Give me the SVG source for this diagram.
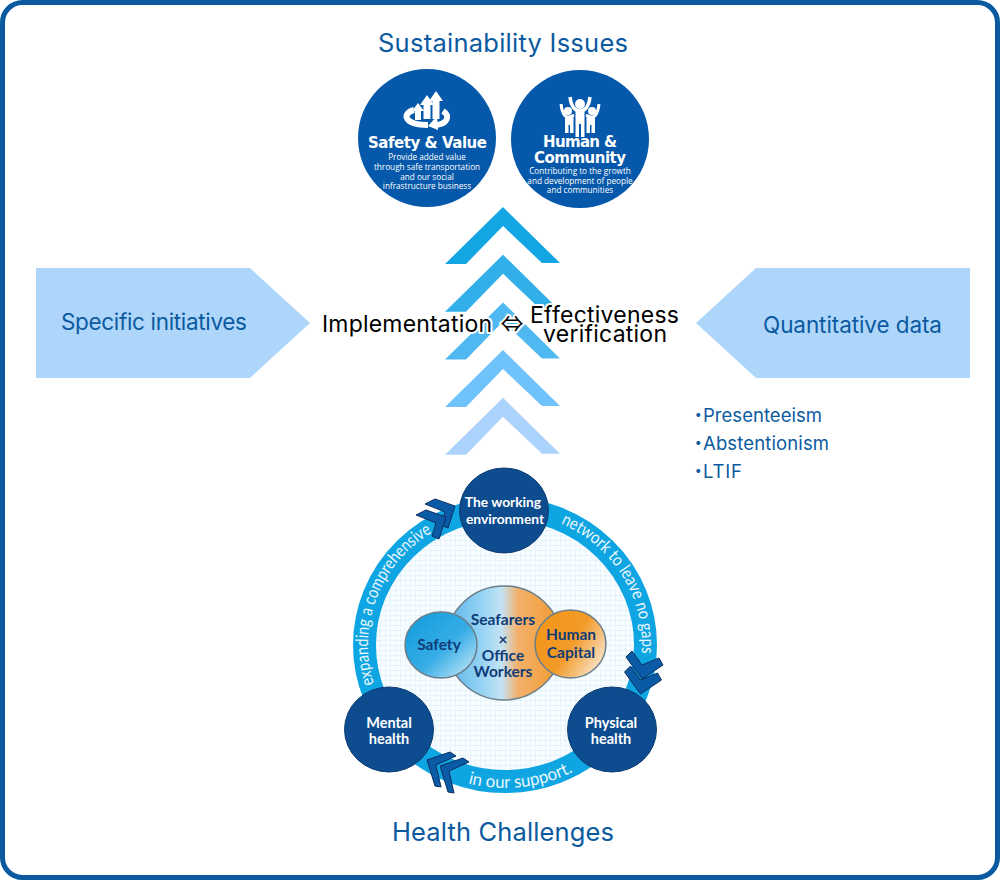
<svg xmlns="http://www.w3.org/2000/svg" width="1000" height="880" viewBox="0 0 1000 880">
<style>
.sans{font-family:Inter,"Noto Sans","Liberation Sans",sans-serif}
.head{font-size:25.500px;fill:#0b5a9f}
.side{font-size:22.500px;fill:#0b5a9f}
.list{font-size:18.500px;fill:#0b5a9f}
.blk{font-size:23px;fill:#000;stroke:#fff;stroke-width:4px;paint-order:stroke;stroke-linejoin:round}
.t1{font-family:"DejaVu Sans","Liberation Sans",sans-serif;font-weight:700;fill:#fff;font-size:15px}
.t2{font-family:"Open Sans","Liberation Sans",sans-serif;fill:#fff;text-anchor:middle;font-size:8.200px}
.n{font-family:Lato,"Liberation Sans",sans-serif;font-weight:700;fill:#fff;text-anchor:middle;font-size:14.500px}
.n2{font-size:13.800px}
.c{font-family:Lato,"Liberation Sans",sans-serif;font-weight:700;fill:#0f3c78;text-anchor:middle;font-size:15.500px}
.r{font-family:Lato,"Liberation Sans",sans-serif;fill:#e8f7fd;font-size:17.500px}
.chev{fill:#0b5aa6;stroke:#0d2f60;stroke-width:1}
.hn{fill:#0c4c8f;stroke:#0a3a70;stroke-width:1}
.ic{fill:#fff}
.il{fill:none;stroke:#fff;stroke-width:6}
</style>
<defs>
<pattern id="grid" width="5" height="5" patternUnits="userSpaceOnUse"><rect width="5" height="5" fill="#fafdff"/><path d="M0 0H5M0 0V5" stroke="#d4eefa" stroke-width="1" fill="none"/></pattern>
<linearGradient id="mid" x1="0" x2="1" y1="0" y2="0"><stop offset="0" stop-color="#58b4e8"/><stop offset=".28" stop-color="#8fd0f3"/><stop offset=".48" stop-color="#c4e3f5"/><stop offset=".62" stop-color="#f3b06a"/><stop offset="1" stop-color="#f29a2e"/></linearGradient>
<linearGradient id="saf" x1="0" y1="0" x2="1" y2="1"><stop offset="0" stop-color="#0d9bdc"/><stop offset=".55" stop-color="#37ade6"/><stop offset="1" stop-color="#d4eef9"/></linearGradient>
<linearGradient id="hum" x1="0" y1="0" x2="1" y2=".6"><stop offset="0" stop-color="#f39415"/><stop offset=".6" stop-color="#f39a28"/><stop offset="1" stop-color="#f8dcb8"/></linearGradient>
<path id="chv" d="M503 207L560 263H542L503 226L466 264H445Z"/>
<path id="arcL" d="M374 684A137 133 0 0 1 458 520"/>
<path id="arcR" d="M560.700 523.500A137 133 0 0 1 637.300 679.400"/>
<path id="arcB" d="M468 783.400A147 143 0 0 0 605 749.800"/>
<path id="c1" d="M435 499L455 506L448 528L441 525L445 512L425 504Z"/>
<path id="c2" d="M632 651L642 665L659 658L663 665L642 679L626 657Z"/>
<path id="c3" d="M450 752L427 760L435 786L441 787L436 765L456 756Z"/>
</defs>
<rect x="2.500" y="2.500" width="995" height="875" rx="20" fill="#fff" stroke="#0b5a9f" stroke-width="5"/>

<g id="title-top"><text class="sans head" x="378" y="52" textLength="250">Sustainability Issues</text></g>

<g id="connectors">
<use href="#chv" fill="#14a6e3"/>
<use href="#chv" y="47.700" fill="#32afe9"/>
<use href="#chv" y="95.400" fill="#50b8f0"/>
<use href="#chv" y="143.100" fill="#70c2fa"/>
<use href="#chv" y="190.800" fill="#abd3fb"/>
</g>

<g id="safety-value">
<circle cx="427" cy="138" r="69" fill="#0558aa"/>
<path class="ic" d="M436 91l7 10h-3.500v18h-7v-18h-3.500zM427 95l7 10h-3.500v14h-7v-14h-3.500zM418 103l6 8h-3v9h-6v-9h-3z"/>
<path class="il" d="M414 110C402 113 403 125 428 125M443 111C451 116 447 124 436 125"/>
<path class="ic" d="M437 116L438 130L428 126Z"/>
<text class="t1" x="368" y="148" textLength="119">Safety &amp; Value</text>
<text class="t2" x="427" y="160">Provide added value</text>
<text class="t2" x="427" y="170">through safe transportation</text>
<text class="t2" x="427" y="179.500">and our social</text>
<text class="t2" x="427" y="188.500">infrastructure business</text>
</g>

<g id="human-community">
<circle cx="580" cy="139" r="69" fill="#0558aa"/>
<circle class="ic" cx="580" cy="104" r="5"/><circle class="ic" cx="568" cy="111" r="4"/><circle class="ic" cx="592" cy="111" r="4"/>
<path class="il" d="M570 97C571 106 575 111 580 111C585 111 589 106 590 97" style="stroke-width:3.500px"/>
<path class="il" d="M561 104C562 112 564 117 568 117C570 117 572 116 574 115M599 104C598 112 596 117 592 117C590 117 588 116 586 115" style="stroke-width:3px"/>
<path class="ic" d="M575.500 110H584.500V137H581V124H579V137H575.500Z"/>
<path class="ic" d="M565 116H573.500V133H570V125H568.500V133H565ZM586.500 116H595V133H591.500V125H590V133H586.500Z"/>
<text class="t1" x="543" y="147" textLength="74">Human &amp;</text>
<text class="t1" x="534" y="163" textLength="92">Community</text>
<text class="t2" x="580" y="174">Contributing to the growth</text>
<text class="t2" x="580" y="183.500">and development of people</text>
<text class="t2" x="580" y="192.500">and communities</text>
</g>

<g id="specific-initiatives">
<path d="M36 268H250L310 323L250 378H36Z" fill="#aed6fb"/>
<text class="sans side" x="61" y="330" textLength="186">Specific initiatives</text>
</g>
<g id="quantitative-data">
<path d="M970 268H756L696 323L756 378H970Z" fill="#aed6fb"/>
<text class="sans side" x="763" y="333" textLength="179">Quantitative data</text>
</g>

<g id="verification-labels">
<text class="sans blk" x="322" y="332" textLength="170">Implementation</text>
<text class="sans blk" x="512" y="332" text-anchor="middle" style="font-family:'Noto Sans CJK JP',sans-serif">⇔</text>
<text class="sans blk" x="530" y="323" textLength="149">Effectiveness</text>
<text class="sans blk" x="543" y="342" textLength="124">verification</text>
</g>

<g id="data-list">
<text class="sans list" x="689" y="422" style="font-family:'Noto Sans CJK JP',Inter,sans-serif">・<tspan x="703" class="sans" textLength="119">Presenteeism</tspan></text>
<text class="sans list" x="689" y="450" style="font-family:'Noto Sans CJK JP',Inter,sans-serif">・<tspan x="703" class="sans" textLength="126">Abstentionism</tspan></text>
<text class="sans list" x="689" y="478" style="font-family:'Noto Sans CJK JP',Inter,sans-serif">・<tspan x="703" class="sans" textLength="39">LTIF</tspan></text>
</g>

<g id="cycle">
<ellipse cx="505.500" cy="645" rx="132" ry="128" fill="url(#grid)"/>
<ellipse cx="505" cy="645" rx="140.500" ry="136.500" fill="none" stroke="#0ea5e2" stroke-width="23"/>
<text class="r"><textPath href="#arcL" textLength="175" lengthAdjust="spacingAndGlyphs">expanding a comprehensive</textPath></text>
<text class="r"><textPath href="#arcR" textLength="163" lengthAdjust="spacingAndGlyphs">network to leave no gaps</textPath></text>
<text class="r"><textPath href="#arcB" textLength="108" lengthAdjust="spacingAndGlyphs">in our support.</textPath></text>
<use href="#c1" class="chev"/>
<use href="#c1" class="chev" x="-9" y="11"/>
<use href="#c2" class="chev"/>
<use href="#c2" class="chev" x="-1.500" y="15"/>
<use href="#c3" class="chev"/>
<use href="#c3" class="chev" x="13" y="6"/>
</g>

<g id="working-environment">
<ellipse class="hn" cx="504" cy="510.500" rx="44.500" ry="42.500"/>
<text class="n n2" x="503" y="507">The working</text>
<text class="n n2" x="505" y="524">environment</text>
</g>
<g id="physical-health">
<ellipse class="hn" cx="612" cy="729.500" rx="44.500" ry="42.500"/>
<text class="n" x="611" y="728">Physical</text>
<text class="n" x="611" y="744">health</text>
</g>
<g id="mental-health">
<ellipse class="hn" cx="389" cy="729.500" rx="44.500" ry="42.500"/>
<text class="n" x="389" y="728">Mental</text>
<text class="n" x="389" y="744">health</text>
</g>

<g id="seafarers-office">
<ellipse cx="504" cy="643" rx="58" ry="57" fill="url(#mid)" stroke="#6b7f8c" stroke-width="1.500"/>
<text class="c" x="503" y="625">Seafarers</text>
<text class="c" x="503" y="645">×</text>
<text class="c" x="503" y="661">Office</text>
<text class="c" x="503" y="677">Workers</text>
</g>
<g id="safety">
<ellipse cx="441" cy="645" rx="36" ry="33" fill="url(#saf)" stroke="#6b7f8c" stroke-width="1.500"/>
<text class="c" x="439" y="650">Safety</text>
</g>
<g id="human-capital">
<ellipse cx="570.500" cy="644" rx="35.500" ry="34" fill="url(#hum)" stroke="#6b7f8c" stroke-width="1.500"/>
<text class="c" x="571" y="640">Human</text>
<text class="c" x="571" y="658">Capital</text>
</g>

<g id="title-bottom"><text class="sans head" x="392" y="841" textLength="222">Health Challenges</text></g>
</svg>
